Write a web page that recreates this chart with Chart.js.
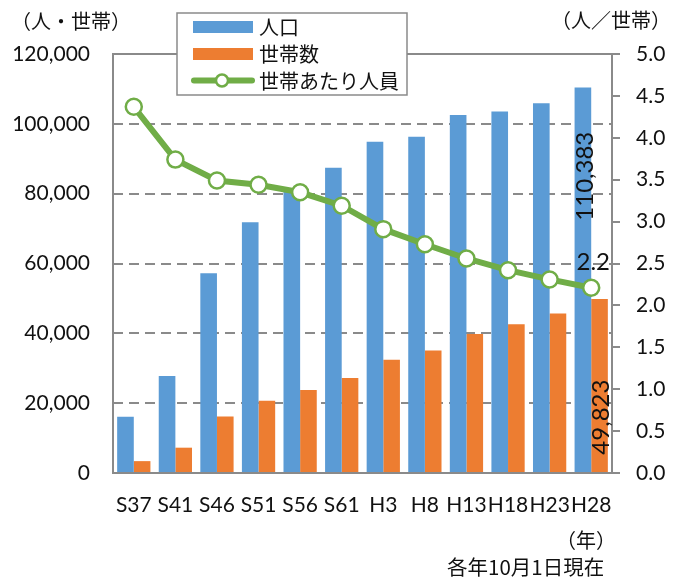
<!DOCTYPE html>
<html>
<head>
<meta charset="utf-8">
<script src="https://cdn.jsdelivr.net/npm/chart.js@4"></script>
<style>
  html, body { margin: 0; padding: 0; background: #fff; }
  #wrap { width: 682px; height: 578px; }
</style>
</head>
<body>
<div id="wrap"><canvas id="chart" width="682" height="578"></canvas></div>
<script>
const years = ['S37', 'S41', 'S46', 'S51', 'S56', 'S61', 'H3', 'H8', 'H13', 'H18', 'H23', 'H28'];
const population = [16100, 27800, 57200, 71800, 80600, 87400, 94900, 96300, 102500, 103500, 105900, 110383];
const households = [3400, 7250, 16200, 20700, 23800, 27200, 32400, 35100, 39800, 42600, 45700, 49823];
const perHousehold = [4.37, 3.74, 3.49, 3.44, 3.35, 3.19, 2.91, 2.73, 2.56, 2.42, 2.31, 2.21];
const leftTicks = [0, 20000, 40000, 60000, 80000, 100000, 120000];

const BLUE = '#5B9BD5';
const ORANGE = '#ED7D31';
const GREEN = '#70AD47';
const GRAY = '#8a8a8a';
const NUM_FONT = 'Lato, "Liberation Sans", sans-serif';
const JP_FONT = '"Noto Sans CJK JP", "Noto Sans", sans-serif';

const extras = {
    id: 'extras',
    beforeDatasetsDraw(chart) {
        const {ctx, chartArea: a} = chart;
        ctx.save();
        ctx.strokeStyle = GRAY;
        ctx.lineWidth = 2;
        ctx.strokeRect(a.left, a.top, a.right - a.left, a.bottom - a.top);
        ctx.restore();
    },
    afterDraw(chart) {
        const {ctx} = chart;
        const x = chart.scales.x, y = chart.scales.y, y1 = chart.scales.y1;
        const last = years.length - 1;
        const barW = x.getPixelForValue(1) - x.getPixelForValue(0);
        const bw = barW * 0.8 / 2;
        const cx = x.getPixelForValue(last);
        ctx.save();
        ctx.fillStyle = '#111';

        // data labels
        ctx.font = '24px ' + NUM_FONT;
        ctx.textAlign = 'center';
        ctx.textBaseline = 'middle';
        ctx.save();
        ctx.translate(cx - bw / 2 + 2, y.getPixelForValue(85000));
        ctx.rotate(-Math.PI / 2);
        ctx.fillText(population[last].toLocaleString('en-US'), 0, 0);
        ctx.restore();
        ctx.save();
        ctx.translate(cx + bw / 2 + 2, y.getPixelForValue(16000));
        ctx.rotate(-Math.PI / 2);
        ctx.fillText(households[last].toLocaleString('en-US'), 0, 0);
        ctx.restore();
        ctx.fillText(perHousehold[last].toFixed(1), cx + 2, y1.getPixelForValue(perHousehold[last]) - 26);

        // axis titles and notes
        ctx.font = '20px ' + JP_FONT;
        ctx.textAlign = 'left';
        ctx.fillText('（人・世帯）', 11, 21);
        ctx.fillText('（人／世帯）', 551, 20);
        ctx.fillText('（年）', 556, 540);
        ctx.font = '20.5px ' + JP_FONT;
        ctx.fillText('各年10月1日現在', 447, 567);

        // legend
        const L = {x: 177, y: 13, w: 230, h: 82};
        ctx.fillStyle = '#fff';
        ctx.fillRect(L.x, L.y, L.w, L.h);
        ctx.strokeStyle = GRAY;
        ctx.lineWidth = 1.5;
        ctx.strokeRect(L.x, L.y, L.w, L.h);
        ctx.fillStyle = BLUE;
        ctx.fillRect(193, 21, 60, 12);
        ctx.fillStyle = ORANGE;
        ctx.fillRect(193, 48, 60, 12);
        ctx.strokeStyle = GREEN;
        ctx.lineWidth = 6;
        ctx.lineCap = 'round';
        ctx.beginPath();
        ctx.moveTo(194, 80.5);
        ctx.lineTo(252, 80.5);
        ctx.stroke();
        ctx.beginPath();
        ctx.arc(222, 80.5, 6, 0, Math.PI * 2);
        ctx.fillStyle = '#fff';
        ctx.fill();
        ctx.lineWidth = 2.5;
        ctx.stroke();
        ctx.fillStyle = '#111';
        ctx.font = '20px ' + JP_FONT;
        ctx.textBaseline = 'middle';
        ctx.fillText('人口', 259, 27);
        ctx.fillText('世帯数', 259, 54);
        ctx.fillText('世帯あたり人員', 259, 81);
        ctx.restore();
    }
};

new Chart(document.getElementById('chart'), {
    data: {
        labels: years,
        datasets: [
            {
                type: 'line',
                label: '世帯あたり人員',
                data: perHousehold,
                yAxisID: 'y1',
                borderColor: GREEN,
                borderWidth: 6,
                pointRadius: 8,
                pointBorderWidth: 2.5,
                pointBackgroundColor: '#fff',
                pointBorderColor: GREEN,
                tension: 0,
                order: 0
            },
            {
                type: 'bar',
                label: '人口',
                data: population,
                backgroundColor: BLUE,
                categoryPercentage: 0.8,
                barPercentage: 1.0,
                order: 1
            },
            {
                type: 'bar',
                label: '世帯数',
                data: households,
                backgroundColor: ORANGE,
                categoryPercentage: 0.8,
                barPercentage: 1.0,
                order: 1
            }
        ]
    },
    options: {
        responsive: false,
        animation: false,
        layout: { padding: { top: 54, left: 0, right: 0, bottom: 0 } },
        plugins: {
            legend: { display: false },
            tooltip: { enabled: false }
        },
        scales: {
            x: {
                grid: { display: false, drawTicks: false },
                border: { display: false },
                ticks: { color: '#111', font: { family: NUM_FONT, size: 21 }, padding: 20, maxRotation: 0, autoSkip: false },
                afterFit(s) { s.height = 105; }
            },
            y: {
                position: 'left',
                min: 0,
                max: 120000,
                afterBuildTicks(s) { s.ticks = leftTicks.map(v => ({value: v})); },
                grid: {
                    drawTicks: false,
                    lineWidth: 2,
                    color: c => (c.tick.value === 0 || c.tick.value === 120000) ? 'rgba(0,0,0,0)' : GRAY
                },
                border: { display: false, dash: [10, 6] },
                ticks: {
                    color: '#111',
                    font: { family: NUM_FONT, size: 21 },
                    padding: 23,
                    callback: v => v.toLocaleString('en-US')
                },
                afterFit(s) { s.width = 113; }
            },
            y1: {
                position: 'right',
                min: 0,
                max: 5,
                grid: { drawOnChartArea: false, drawTicks: true, tickLength: 8, color: GRAY, lineWidth: 2 },
                border: { display: false },
                ticks: {
                    stepSize: 0.5,
                    color: '#111',
                    font: { family: NUM_FONT, size: 21 },
                    padding: 16,
                    callback: v => v.toFixed(1)
                },
                afterFit(s) { s.width = 70; }
            }
        }
    },
    plugins: [extras]
});
</script>
</body>
</html>
